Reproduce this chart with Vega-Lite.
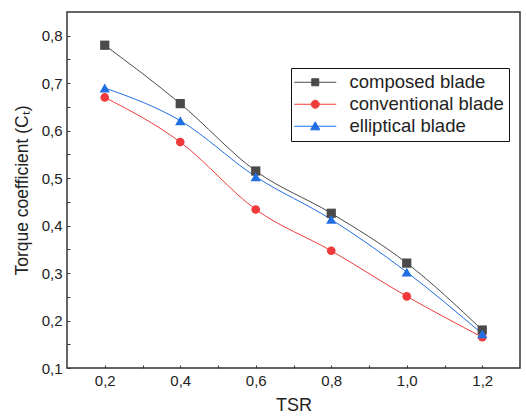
{
  "$schema": "https://vega.github.io/schema/vega-lite/v6.json",
  "width": 453,
  "height": 356,
  "autosize": {"type": "none"},
  "padding": {"left": 67, "top": 12, "right": 6, "bottom": 48},
  "background": "white",
  "config": {
    "view": {"stroke": "#333333", "strokeWidth": 1.5},
    "font": "Liberation Sans",
    "axis": {"domain": false, "grid": false, "tickColor": "#333333", "tickWidth": 1, "labelColor": "#222222", "titleColor": "#222222", "labelFont": "Liberation Sans", "titleFont": "Liberation Sans", "titleFontWeight": "normal"}
  },
  "data": {
    "values": [
      {"TSR": 0.2, "CT": 0.780, "blade": "composed blade"},
      {"TSR": 0.4, "CT": 0.657, "blade": "composed blade"},
      {"TSR": 0.6, "CT": 0.515, "blade": "composed blade"},
      {"TSR": 0.8, "CT": 0.426, "blade": "composed blade"},
      {"TSR": 1.0, "CT": 0.321, "blade": "composed blade"},
      {"TSR": 1.2, "CT": 0.180, "blade": "composed blade"},
      {"TSR": 0.2, "CT": 0.670, "blade": "conventional blade"},
      {"TSR": 0.4, "CT": 0.576, "blade": "conventional blade"},
      {"TSR": 0.6, "CT": 0.434, "blade": "conventional blade"},
      {"TSR": 0.8, "CT": 0.347, "blade": "conventional blade"},
      {"TSR": 1.0, "CT": 0.251, "blade": "conventional blade"},
      {"TSR": 1.2, "CT": 0.165, "blade": "conventional blade"},
      {"TSR": 0.2, "CT": 0.690, "blade": "elliptical blade"},
      {"TSR": 0.4, "CT": 0.621, "blade": "elliptical blade"},
      {"TSR": 0.6, "CT": 0.503, "blade": "elliptical blade"},
      {"TSR": 0.8, "CT": 0.413, "blade": "elliptical blade"},
      {"TSR": 1.0, "CT": 0.302, "blade": "elliptical blade"},
      {"TSR": 1.2, "CT": 0.172, "blade": "elliptical blade"}
    ]
  },
  "encoding": {
    "x": {
      "field": "TSR", "type": "quantitative",
      "scale": {"domain": [0.1, 1.3], "nice": false, "zero": false},
      "axis": {
        "title": "TSR", "titleFontSize": 18, "titlePadding": 8,
        "values": [0.2, 0.3, 0.4, 0.5, 0.6, 0.7, 0.8, 0.9, 1.0, 1.1, 1.2],
        "labelExpr": "round(datum.value*10) % 2 == 0 ? replace(format(datum.value, '.1f'), '.', ',') : ''",
        "labelFontSize": 15, "tickSize": -3, "labelPadding": 8
      }
    },
    "y": {
      "field": "CT", "type": "quantitative",
      "scale": {"domain": [0.1, 0.85], "nice": false, "zero": false},
      "axis": {
        "title": "Torque coefficient (Cₜ)", "titleFontSize": 17.5, "titlePadding": 10,
        "values": [0.1, 0.15, 0.2, 0.25, 0.3, 0.35, 0.4, 0.45, 0.5, 0.55, 0.6, 0.65, 0.7, 0.75, 0.8],
        "labelExpr": "abs(datum.value*10 - round(datum.value*10)) < 0.01 ? replace(format(datum.value, '.1f'), '.', ',') : ''",
        "labelFontSize": 15, "tickSize": -3, "labelPadding": 8
      }
    },
    "color": {
      "field": "blade", "type": "nominal",
      "scale": {"domain": ["composed blade", "conventional blade", "elliptical blade"], "range": ["#4a4a4a", "#ef3b3b", "#1f6fe3"]},
      "legend": {
        "title": null,
        "orient": "none", "legendX": 224, "legendY": 56,
        "strokeColor": "#111111", "padding": 5,
        "symbolSize": 64, "labelOffset": 35, "labelFontSize": 18.5, "labelColor": "#222222",
        "rowPadding": 3,
        "encode": {
          "symbols": {
            "update": {
              "shape": {"signal": "datum.value == 'composed blade' ? 'M-2.75,0H7.75M1.625,-0.875H3.375V0.875H1.625Z' : datum.value == 'conventional blade' ? 'M-2.75,0H7.75M1.5,0A1,1 0 1,0 3.5,0A1,1 0 1,0 1.5,0Z' : 'M-2.75,0H7.75M2.5,-1.1L3.65,0.9L1.35,0.9Z'"},
              "size": {"value": 64},
              "stroke": {"signal": "scale('color', datum.value)"},
              "strokeWidth": {"value": 1},
              "opacity": {"value": 1}
            }
          }
        }
      }
    }
  },
  "layer": [
    {
      "mark": {"type": "line", "interpolate": "monotone", "strokeWidth": 1}
    },
    {
      "transform": [{"filter": {"field": "blade", "equal": "composed blade"}}],
      "mark": {"type": "point", "shape": "square", "filled": true, "opacity": 1, "size": 85}
    },
    {
      "transform": [{"filter": {"field": "blade", "equal": "conventional blade"}}],
      "mark": {"type": "point", "shape": "circle", "filled": true, "opacity": 1, "size": 75}
    },
    {
      "transform": [{"filter": {"field": "blade", "equal": "elliptical blade"}}],
      "mark": {"type": "point", "shape": "triangle-up", "filled": true, "opacity": 1, "size": 105}
    }
  ]
}
